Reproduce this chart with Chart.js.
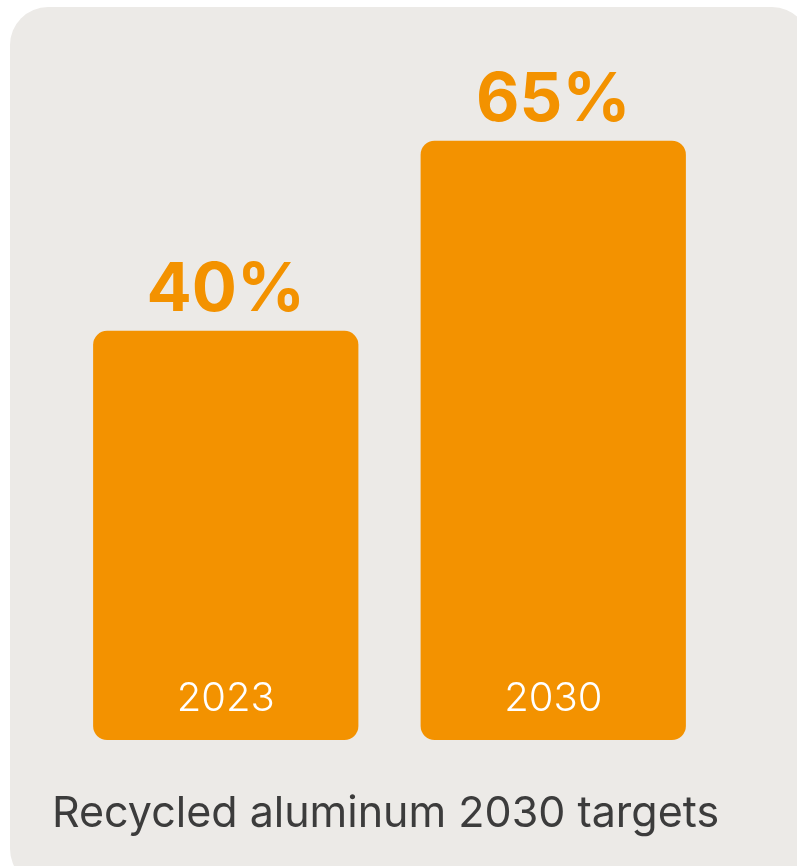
<!DOCTYPE html>
<html>
<head>
<meta charset="utf-8">
<script src="https://cdn.jsdelivr.net/npm/chart.js@4"></script>
<style>
  html, body { margin: 0; padding: 0; background: #ffffff; overflow: hidden; }
  canvas { display: block; }
</style>
</head>
<body>
<canvas id="targetsChart" width="797" height="866"></canvas>
<script>
const years = ['2023', '2030'];
const recycledShare = [40, 65];
const chartTitle = 'Recycled aluminum 2030 targets';

const orange = '#F39200';
const panelGrey = '#ECEAE7';

// rounded grey card behind everything
const panelBg = {
  id: 'panelBg',
  beforeDraw(chart) {
    const c = chart.ctx;
    c.save();
    c.fillStyle = panelGrey;
    c.beginPath();
    c.roundRect(10, 7, 800, 880, 38);
    c.fill();
    c.restore();
  }
};

// percentages above the bars, years inside them, caption underneath
const barText = {
  id: 'barText',
  afterDatasetsDraw(chart) {
    const c = chart.ctx;
    const bars = chart.getDatasetMeta(0).data;
    c.save();
    c.textAlign = 'center';
    c.textBaseline = 'alphabetic';
    bars.forEach((bar, i) => {
      c.fillStyle = orange;
      c.font = '700 67px Inter';
      c.fillText(recycledShare[i] + '%', bar.x, bar.y - 20);
      c.fillStyle = '#ffffff';
      c.font = '300 40px Inter';
      c.fillText(years[i], bar.x, bar.base - 29);
    });
    c.textAlign = 'left';
    c.fillStyle = '#3C3C3C';
    c.font = '400 43px Inter';
    c.fillText(chartTitle, 52, chart.chartArea.bottom + 87);
    c.restore();
  }
};

const yMin = -13.8;

new Chart(document.getElementById('targetsChart'), {
  type: 'bar',
  data: {
    labels: years,
    datasets: [{
      data: recycledShare,
      base: yMin,
      backgroundColor: orange,
      borderRadius: 14,
      borderSkipped: false,
      barPercentage: 0.81,
      categoryPercentage: 1
    }]
  },
  options: {
    responsive: false,
    animation: false,
    layout: { padding: { left: 62, right: 80, top: 60, bottom: 126 } },
    scales: {
      x: { display: false },
      y: { display: false, min: yMin, max: 75.6 }
    },
    plugins: {
      legend: { display: false },
      tooltip: { enabled: false }
    }
  },
  plugins: [panelBg, barText]
});
</script>
</body>
</html>
